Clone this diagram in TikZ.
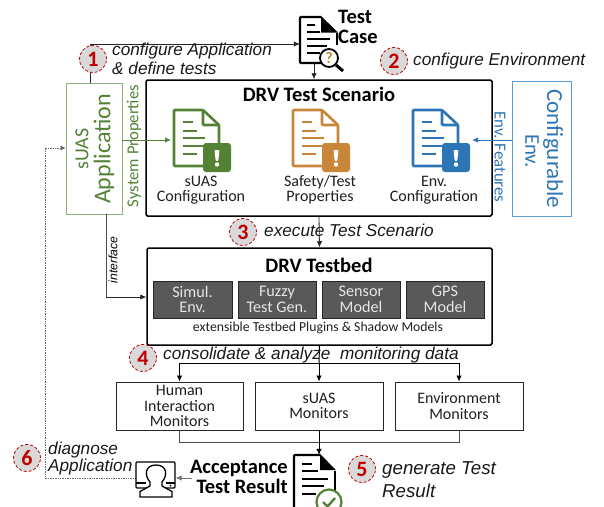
\documentclass[tikz,border=0pt]{standalone}
\usepackage{fontspec}
\setmainfont{Carlito}
\newfontfamily\itfont{Liberation Sans}
\usetikzlibrary{arrows.meta,calc}
\definecolor{cgreen}{HTML}{548235}
\definecolor{cgreenl}{HTML}{8FB27A}
\definecolor{corange}{HTML}{C98539}
\definecolor{cblue}{HTML}{2E75B6}
\definecolor{cbluel}{HTML}{5B9BD5}
\definecolor{cred}{HTML}{C00000}
\definecolor{ctxt}{HTML}{1F1F1F}
\tikzset{
  conn/.style={draw=black!85,line width=0.8pt,-{Latex[length=6pt,width=5.5pt]}},
  plain/.style={draw=black!70,line width=1pt},
  stepnum/.style={circle,draw=cred,fill=black!15,densely dashed,line width=0.8pt,minimum size=27pt,inner sep=0pt,text=cred,font=\fontsize{22}{22}\selectfont\bfseries},
  lab/.style={font=\fontsize{17.2}{19}\selectfont\itfont\itshape,text=black!90,inner sep=0pt,anchor=west},
  bigbox/.style={draw=black,line width=1.5pt,rounded corners=1.5pt,inner sep=0pt},
  monbox/.style={draw=black!85,line width=1pt,inner sep=0pt,align=center,font=\fontsize{16}{15.4}\selectfont,text=ctxt},
  graybox/.style={draw=black!85,fill=black!65,line width=0.8pt,inner sep=0pt,align=center,text=black!10,font=\fontsize{16.2}{15.6}\selectfont},
  caption/.style={inner sep=0pt,align=center,text=ctxt,font=\fontsize{16}{15}\selectfont},
  title/.style={inner sep=0pt,font=\fontsize{20.5}{20}\selectfont\bfseries},
  iconbox/.style={inner sep=0pt,minimum width=#1},
}
% colour document icon: x y colour
\newcommand\cdoc[3]{%
  \begin{scope}[shift={(#1,#2)},line width=2.6pt,draw=#3,rounded corners=1pt]
    \draw (29,56)--(0,56)--(0,0)--(29,0)--(45,15)--(45,33);
    \draw (29,0)--(29,15)--(45,15);
    \begin{scope}[line width=1.5pt,rounded corners=0pt]
      \draw (9,12)--(19,12) (9,21)--(23,21) (9,28)--(31,28) (9,36)--(29,36) (9,44)--(23,44);
    \end{scope}
    \fill[#3,rounded corners=3pt] (29,33) rectangle (57,62);
    \fill[white] (40.5,40)--(45.5,40)--(44.3,51)--(41.7,51)--cycle;
    \fill[white] (43,54.5) circle (2.2);
  \end{scope}}
% black document icon: x y
\newcommand\bdoc[2]{%
  \begin{scope}[shift={(#1,#2)},line width=2.4pt,draw=black]
    \draw[rounded corners=1pt] (21,0)--(0,0)--(0,46)--(22,46);
    \draw (37,16)--(37,28);
    \fill (21,-1.2)--(37.8,15.5)--(21,15.5)--cycle;
    \begin{scope}[line width=1.3pt]
      \draw (7,8)--(15,8) (7,15)--(20,15) (7,22)--(30,22) (7,29)--(27,29) (7,36)--(20,36);
    \end{scope}
  \end{scope}}
\begin{document}
\begin{tikzpicture}[x=1pt,y=-1pt]
\useasboundingbox (0,0) rectangle (604,506);
% boxes
\node[draw=cgreenl,line width=0.8pt,minimum width=56pt,minimum height=131pt,inner sep=0pt] (app) at (94,148.5) {};
\node[draw=cbluel,line width=0.8pt,minimum width=59pt,minimum height=135pt,inner sep=0pt] (cenv) at (541.5,148.5) {};
\node[bigbox,minimum width=346pt,minimum height=136pt] (scen) at (319,148) {};
\node[bigbox,minimum width=345pt,minimum height=97pt] (bed) at (319.5,296.5) {};
\node[monbox,minimum width=127pt,minimum height=48pt] (hm) at (179.5,406) {Human\\Interaction\\Monitors};
\node[monbox,minimum width=128pt,minimum height=48pt] (sm) at (319,406) {sUAS\\Monitors};
\node[monbox,minimum width=128pt,minimum height=48pt] (em) at (459,406) {Environment\\Monitors};
\node[graybox,minimum width=79pt,minimum height=37pt] (g1) at (192.5,299.5) {Simul.\\Env.};
\node[graybox,minimum width=78pt,minimum height=37pt] (g2) at (277,299.5) {Fuzzy\\Test Gen.};
\node[graybox,minimum width=78pt,minimum height=37pt] (g3) at (361,299.5) {Sensor\\Model};
\node[graybox,minimum width=78pt,minimum height=37pt] (g4) at (445,299.5) {GPS\\Model};
% icon anchors
\node[iconbox=37pt,minimum height=46pt] (tc) at (318.5,40) {};
\node[iconbox=57pt,minimum height=62pt] (ig) at (202.5,141) {};
\node[iconbox=57pt,minimum height=62pt] (io) at (321,141) {};
\node[iconbox=57pt,minimum height=62pt] (ib) at (441.5,141) {};
\node[iconbox=41pt,minimum height=52pt] (res) at (314.5,481) {};
\node[iconbox=40pt,minimum height=36pt] (usr) at (155.5,479) {};
\coordinate (hub) at (319,363);
\coordinate (low) at (319,442);
\coordinate (c1) at (90,44);
\coordinate (c2) at (106,297);
\coordinate (c3) at (314,63);
\coordinate (d1) at (45,478);
\coordinate (d2) at (45,148);
% connectors
\draw[conn] (app.north -| c1) -- (c1) -- (c1 -| tc.west);
\draw[conn] (c3) -- (c3 |- scen.north);
\draw[conn,draw=cgreen] (app.east |- 0,140) -- (171,140);
\draw[conn,draw=cblue] (cenv.west |- 0,140) -- (472,140);
\draw[conn] (scen.south) -- (bed.north);
\draw[plain] (app.south -| c2) -- (c2);
\draw[conn] (c2) -- (c2 -| bed.west);
\draw[plain,draw=black] (bed.south) -- (hub);
\draw[conn,draw=black] (hub -| hm.north) -- (hm.north);
\draw[plain,draw=black] (hub -| hm.north) -- (hub -| em.north);
\draw[conn,draw=black] (hub) -- (sm.north);
\draw[conn,draw=black] (hub -| em.north) -- (em.north);
\draw[plain] (hm.south) -- (low -| hm.south) -- (low -| em.south) -- (em.south);
\draw[conn,draw=black] (sm.south) -- (res.north -| sm.south);
\draw[conn,draw=black!55] (192,478) -- (usr.east |- 0,478);
\draw[black!60,line width=0.7pt,densely dotted,-{Latex[length=5pt,width=5pt]}] (usr.west |- d1) -- (d1) -- (d2) -- (app.west |- d2);
% icons
\cdoc{174}{110}{cgreen}
\cdoc{293}{110}{corange}
\cdoc{413}{110}{cblue}
\bdoc{300}{17}
\begin{scope}
  \draw[black,line width=3pt] (336,65)--(343,71);
  \draw[black,line width=1.8pt,fill=white] (329,58) circle (9);
  \node[inner sep=0pt,text=corange,font=\fontsize{16}{16}\selectfont\bfseries] (qm) at (329,58.5) {?};
\end{scope}
\begin{scope}[shift={(294,455)}]
  \draw[line width=2.4pt,rounded corners=1pt] (0,60)--(0,0)--(26,0);
  \draw[line width=2.4pt] (41,16)--(41,38);
  \fill (26,-1.2)--(41.8,15)--(26,15)--cycle;
  \draw[line width=1.3pt] (8,9)--(18,9) (8,16)--(24,16) (8,24)--(34,24) (8,31)--(30,31) (8,39)--(22,39);
\end{scope}
\draw[cgreen,line width=2.2pt,fill=white] (329,502) circle (12.5);
\draw[cgreen,line width=2.4pt] (323,502)--(327.5,506.5)--(335,498);
% user icon
\begin{scope}
  \draw[black,line width=1.2pt,rounded corners=1pt] (136,462) rectangle (175,488);
  \draw[black,line width=1.2pt] (136,483)--(146,483) (166,483)--(175,483);
  \draw[black,line width=1.3pt,fill=white] (150,486)--(150,482) .. controls (144,475) and (145,465) .. (156,465) .. controls (167,465) and (168,475) .. (162,482) -- (162,486) -- (172,491.5) -- (172,497) -- (140,497) -- (140,491.5) -- cycle;
  \fill (170.5,485.5) circle (1);
\end{scope}
% rotated texts
\node[rotate=90,inner sep=0pt,text=cgreen,font=\fontsize{20}{20}\selectfont] (t1) at (82,149) {sUAS};
\node[rotate=90,inner sep=0pt,text=cgreen,font=\fontsize{24}{24}\selectfont] (t2) at (104,149) {Application};
\node[rotate=90,inner sep=0pt,text=cgreen,font=\fontsize{16.7}{16.7}\selectfont] (t3) at (134,146) {System Properties};
\node[rotate=-90,inner sep=0pt,text=cblue,font=\fontsize{16.8}{16.8}\selectfont] (t4) at (500,157) {Env. Features};
\node[rotate=-90,inner sep=0pt,text=cblue,font=\fontsize{23}{23}\selectfont] (t5) at (553,149) {Configurable};
\node[rotate=-90,inner sep=0pt,text=cblue,font=\fontsize{21}{21}\selectfont] (t6) at (532,151) {Env.};
\node[rotate=90,inner sep=0pt,font=\fontsize{12.2}{12.2}\selectfont\itfont\itshape] (t7) at (113,260) {interface};
% titles
\node[title,anchor=west,align=left] (t8) at (338,27) {Test\\Case};
\node[title] (t9) at (319,94) {DRV Test Scenario};
\node[title] (t10) at (319,265) {DRV Testbed};
\node[title,anchor=east,align=right] (t11) at (288,477) {Acceptance\\Test Result};
\node[caption] (t12) at (201,190) {sUAS\\Configuration};
\node[caption] (t13) at (320,190) {Safety/Test\\Properties};
\node[caption] (t14) at (434,190) {Env.\\Configuration};
\node[inner sep=0pt,text=ctxt,font=\fontsize{13.7}{14}\selectfont] (t15) at (318,328) {extensible Testbed Plugins \& Shadow Models};
% step labels
\node[lab] (l1) at (112,51) {configure Application};
\node[lab] (l1b) at (112,68) {\& define tests};
\node[lab] (l2) at (413,61) {configure Environment};
\node[lab] (l3) at (264,230) {execute Test Scenario};
\node[lab] (l4) at (163,355) {consolidate \& analyze\ \ monitoring data};
\node[lab,font=\fontsize{18.7}{20}\selectfont\itfont\itshape] (l5) at (382,470) {generate Test};
\node[lab,font=\fontsize{18.7}{20}\selectfont\itfont\itshape] (l5b) at (382,491) {Result};
\node[lab] (l6) at (48,450) {diagnose};
\node[lab] (l6b) at (48,467) {Application};
% numbers
\node[stepnum] (n1) at (93,59) {1};
\node[stepnum] (n2) at (394,61) {2};
\node[stepnum] (n3) at (243,232) {3};
\node[stepnum] (n4) at (143,358) {4};
\node[stepnum] (n5) at (362,469) {5};
\node[stepnum] (n6) at (27,458) {6};
\end{tikzpicture}
\end{document}
